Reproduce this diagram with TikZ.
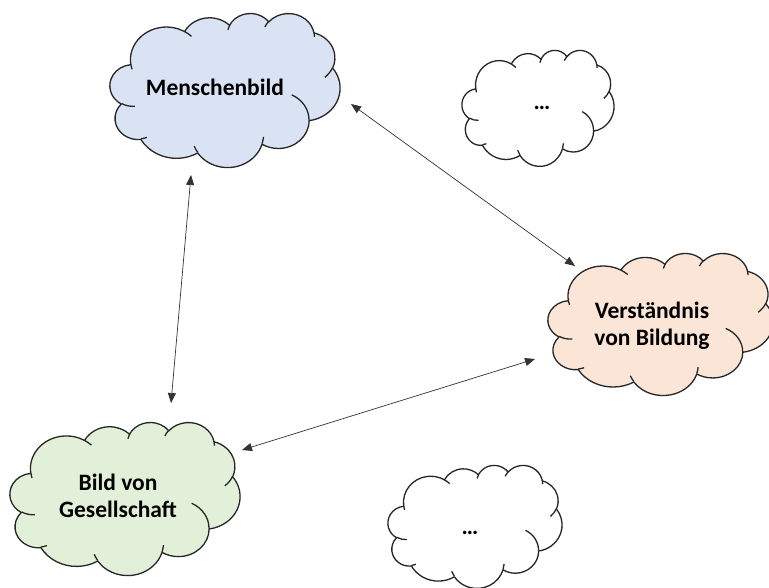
\documentclass[tikz,border=0pt]{standalone}
\usepackage{fontspec}
\setmainfont{Carlito}
\usetikzlibrary{arrows.meta}
\definecolor{mbfill}{HTML}{DAE3F3}
\definecolor{vbfill}{HTML}{FBE5D6}
\definecolor{bgfill}{HTML}{E2F0D9}
% visual (DrawingML) angle -> parametric ellipse angle, keeping the winding
\newcommand\cparam[3]{(#3)+mod(atan2((#1)*sin(#3),(#2)*cos(#3))-(#3)+900,360)-180}
\newcommand\carc[4]{arc[x radius=#1pt, y radius=#2pt, start angle={\cparam{#1}{#2}{#3}}, end angle={\cparam{#1}{#2}{#3+#4}}]}
% cloud in a box: x0, y0 (top-left, pixels, y down), W, H, fill
\newcommand\drawcloud[5]{%
\begin{scope}[shift={(#1,-#2)}, xscale=#3/43.2, yscale=-#4/43.2]
\filldraw[cloudline, fill=#5] (3.9,14.37)
 \carc{6.753}{9.19}{-190.4875}{123.7805}
 \carc{5.333}{7.267}{-144.1024}{89.9452}
 \carc{4.365}{5.945}{-145.8079}{99.7230}
 \carc{4.857}{6.595}{-130.9861}{117.2417}
 \carc{5.333}{7.273}{-78.7089}{109.0269}
 \carc{6.775}{9.22}{-46.2673}{130.2690}
 \carc{5.785}{7.867}{0.6250}{114.0333}
 \carc{6.752}{9.215}{22.4516}{115.1726}
 \carc{7.72}{10.543}{66.2426}{75.7110}
 \carc{4.36}{5.918}{-274.9421}{146.7356}
 \carc{4.345}{5.945}{-246.8285}{152.5189}
 -- cycle;
\draw[cloudline]
 (4.693,26.177) \carc{4.345}{5.945}{86.742}{26.4295}
 (6.928,34.899) \carc{4.36}{5.918}{73.6105}{11.4475}
 (16.478,39.09) \carc{6.752}{9.215}{137.6242}{14.0811}
 (28.827,34.751) \carc{6.752}{9.215}{6.4533}{15.9984}
 (34.129,22.954) \carc{5.785}{7.867}{-70.2924}{70.9174}
 (41.798,15.354) \carc{5.333}{7.273}{30.3180}{27.7515}
 (38.324,5.426) \carc{4.857}{6.595}{-13.7443}{14.8622}
 (29.078,3.952) \carc{4.857}{6.595}{-149.1815}{18.1844}
 (22.141,4.72) \carc{4.365}{5.945}{-163.4943}{17.6987}
 (14.0,5.192) \carc{6.753}{9.19}{-66.7070}{12.3194}
 (4.127,15.789) \carc{6.753}{9.19}{157.6544}{11.8582};
\end{scope}}
\tikzset{
  cloudline/.style={line width=1.3pt, draw=black!85, line join=round},
  lbl/.style={font=\fontsize{23.5}{27}\selectfont\bfseries, align=center, inner sep=0pt, text=black},
  conn/.style={{Triangle[length=10pt,width=8pt]}-{Triangle[length=10pt,width=8pt]}, line width=0.7pt, draw=black!80}
}
\begin{document}
\begin{tikzpicture}[x=1pt,y=1pt]
\fill[white] (0,0) rectangle (769,-587);
\useasboundingbox (0,0) rectangle (769,-587);
% clouds
\drawcloud{110}{13}{230}{154}{mbfill}
\drawcloud{462}{50}{152}{116}{white}
\drawcloud{548}{253}{225}{142}{vbfill}
\drawcloud{10}{422}{230}{153}{bgfill}
\drawcloud{388}{465}{174}{123}{white}
% labels
\node[lbl] (mb) at (215,-87) {Menschenbild};
\node[lbl] (d1) at (542,-108) {…};
\node[lbl] (vb) at (652,-326) {Verständnis\\von Bildung};
\node[lbl] (bg) at (118,-496) {Bild von\\Gesellschaft};
\node[lbl] (d2) at (470,-533) {…};
% connectors
\draw[conn] ([shift={(-24,-88)}]mb.center) -- ([shift={(53,93)}]bg.center);
\draw[conn] ([shift={(136,-17)}]mb.center) -- ([shift={(-77,60)}]vb.center);
\draw[conn] ([shift={(124,46)}]bg.center) -- ([shift={(-117,-33)}]vb.center);
\end{tikzpicture}
\end{document}
